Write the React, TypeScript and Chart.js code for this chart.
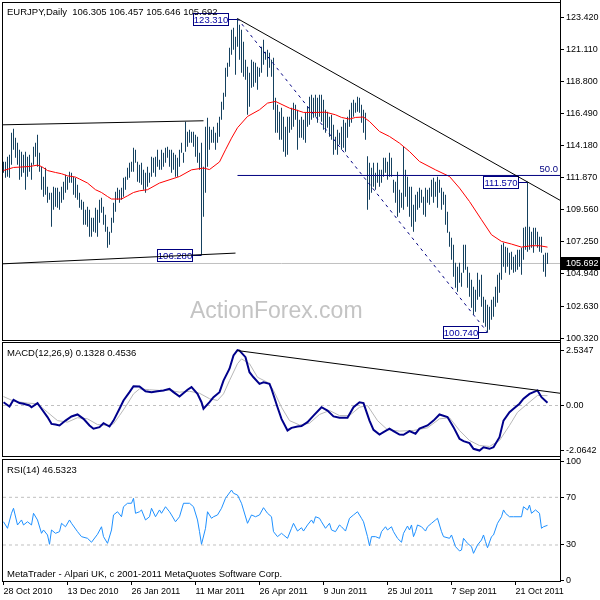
import React, { useEffect, useRef } from 'react';
import { Chart, registerables } from 'chart.js';

Chart.register(...registerables);

const FAMILY = '"Liberation Sans", Arial, sans-serif';

// ---------- header / text ----------
const symbolTitle = 'EURJPY,Daily';
const lastOHLC = ['106.305', '106.457', '105.646', '105.692'];
const macdTitle = 'MACD(12,26,9) 0.1328 0.4536';
const rsiTitle = 'RSI(14) 46.5323';
const footerText = 'MetaTrader - Alpari UK, c 2001-2011 MetaQuotes Software Corp.';
const watermark = 'ActionForex.com';

// ---------- x axis (bar index) ----------
const dateTickIdx = [0, 32, 64, 96, 128, 160, 192, 224, 256];
const dateLabels = ['28 Oct 2010', '13 Dec 2010', '26 Jan 2011', '11 Mar 2011', '26 Apr 2011', '9 Jun 2011', '25 Jul 2011', '7 Sep 2011', '21 Oct 2011'];
const X_MIN = -0.25;
const X_MAX = 278.25;

// ---------- daily bars ----------
const barHigh = [
  113.01, 113.01, 113.37, 113.51, 115.10, 115.38, 114.74, 114.38, 113.87, 113.73,
  113.51, 113.73, 113.37, 113.51, 112.94, 114.09, 114.38, 114.95, 113.66, 112.65,
  111.93, 112.58, 111.21, 110.78, 110.78, 111.21, 111.14, 111.14, 110.85, 111.21,
  111.57, 112.07, 111.93, 112.29, 112.22, 111.93, 111.86, 111.36, 110.78, 110.28,
  110.13, 109.56, 109.77, 109.56, 108.98, 108.98, 109.70, 109.56, 110.28, 110.42,
  109.77, 109.20, 108.33, 107.97, 108.98, 110.06, 110.85, 111.14, 111.00, 111.14,
  111.86, 111.93, 112.58, 112.94, 113.01, 114.02, 113.87, 113.01, 112.79, 112.94,
  112.43, 112.22, 112.65, 112.22, 113.37, 113.30, 113.37, 113.87, 113.15, 113.87,
  113.66, 114.02, 114.09, 113.87, 113.87, 113.66, 113.51, 113.30, 113.87, 114.38,
  113.66, 115.89, 115.17, 115.31, 115.17, 115.17, 114.95, 114.81, 113.66, 114.38,
  112.65, 115.53, 116.17, 115.53, 115.31, 115.53, 115.10, 115.82, 116.25, 117.33,
  117.97, 119.77, 120.13, 121.21, 122.51, 122.65, 122.00, 123.31, 122.87, 122.51,
  121.64, 120.35, 119.84, 119.41, 120.35, 120.20, 120.13, 119.84, 119.77, 121.28,
  121.79, 120.92, 121.07, 120.85, 120.35, 120.49, 117.62, 117.11, 116.61, 116.89,
  116.25, 115.53, 116.25, 116.25, 116.89, 117.25, 117.11, 116.75, 116.03, 116.25,
  116.03, 116.54, 116.97, 117.69, 117.83, 117.62, 117.83, 117.62, 117.83, 117.83,
  117.47, 116.75, 116.61, 116.25, 116.39, 115.67, 114.81, 115.31, 115.10, 115.53,
  116.03, 115.82, 116.25, 116.75, 117.25, 117.47, 117.25, 117.69, 117.62, 117.11,
  116.75, 116.54, 113.40, 112.94, 112.58, 112.94, 112.22, 112.94, 112.43, 112.43,
  113.30, 113.30, 113.01, 113.66, 113.30, 111.72, 111.57, 112.29, 111.00, 110.78,
  114.09, 112.43, 111.93, 111.21, 111.21, 109.92, 110.64, 110.85, 111.14, 111.00,
  110.49, 111.14, 111.00, 111.14, 111.72, 111.86, 111.57, 111.93, 111.72, 111.14,
  110.85, 110.64, 109.41, 107.97, 107.54, 107.04, 105.74, 105.46, 105.74, 105.02,
  107.04, 107.04, 105.46, 105.02, 104.52, 104.02, 103.80, 105.02, 104.52, 104.88,
  103.30, 103.08, 102.72, 102.58, 103.08, 103.30, 104.02, 104.88, 105.02, 107.04,
  107.18, 106.89, 106.82, 106.46, 106.54, 106.18, 106.32, 106.68, 106.68, 106.82,
  108.26, 108.33, 111.57, 108.33, 107.97, 108.26, 108.26, 107.97, 107.61, 107.61,
  106.32, 106.46, 106.46,
];
const barLow = [
  112.22, 111.86, 111.93, 111.86, 112.79, 113.87, 113.30, 112.79, 111.72, 111.93,
  112.22, 110.99, 111.93, 112.29, 111.72, 112.79, 113.37, 112.65, 112.29, 111.00,
  110.49, 110.64, 110.06, 110.28, 108.33, 109.56, 109.77, 109.70, 109.56, 110.06,
  110.28, 110.78, 111.00, 111.50, 111.50, 110.64, 110.42, 110.28, 109.70, 109.56,
  108.48, 108.48, 108.33, 107.61, 107.61, 107.97, 107.90, 107.61, 108.62, 109.34,
  108.48, 107.97, 106.82, 107.04, 107.90, 108.62, 109.41, 110.28, 110.06, 110.28,
  110.49, 111.00, 111.72, 111.86, 112.29, 112.29, 112.94, 111.57, 111.50, 111.36,
  111.00, 110.78, 111.21, 111.50, 111.93, 112.22, 111.93, 112.65, 112.43, 112.43,
  112.65, 112.94, 113.30, 112.65, 112.22, 112.43, 111.93, 111.93, 112.65, 113.66,
  112.94, 113.73, 114.09, 114.38, 114.38, 114.09, 113.37, 112.94, 112.43, 106.28,
  109.05, 110.78, 112.65, 113.87, 114.38, 114.38, 113.87, 114.38, 114.81, 116.03,
  116.75, 117.69, 119.12, 119.84, 120.71, 121.07, 119.27, 121.28, 120.35, 119.41,
  119.12, 118.91, 116.39, 116.97, 118.33, 118.41, 118.69, 118.19, 119.12, 119.41,
  119.99, 120.35, 119.12, 119.77, 119.12, 116.75, 115.10, 115.10, 114.59, 114.59,
  113.73, 113.37, 113.51, 115.10, 115.31, 115.53, 116.03, 113.87, 114.74, 114.74,
  114.59, 114.38, 115.53, 115.67, 116.03, 116.17, 116.25, 115.82, 116.25, 115.89,
  115.31, 115.10, 115.46, 114.81, 114.59, 113.51, 113.87, 113.51, 114.23, 113.87,
  114.02, 113.73, 114.74, 115.53, 115.82, 116.25, 116.54, 116.61, 116.54, 115.82,
  115.10, 114.59, 109.56, 110.28, 110.78, 111.21, 111.00, 111.50, 111.21, 111.50,
  111.93, 112.22, 111.72, 111.93, 111.93, 110.78, 110.06, 109.05, 109.34, 109.70,
  109.56, 110.49, 109.77, 109.05, 108.33, 107.97, 108.69, 109.56, 109.70, 110.06,
  109.20, 109.05, 110.06, 109.92, 110.49, 110.06, 110.49, 109.70, 110.78, 109.56,
  109.92, 108.48, 107.90, 106.89, 105.96, 104.74, 103.95, 103.66, 104.31, 104.02,
  105.02, 105.24, 103.95, 103.30, 102.51, 102.00, 102.22, 103.08, 103.30, 102.58,
  101.43, 101.14, 100.74, 100.92, 101.64, 101.86, 102.58, 102.87, 103.59, 104.52,
  105.46, 105.02, 105.46, 104.88, 105.24, 105.02, 105.10, 105.24, 105.46, 104.88,
  105.96, 106.68, 106.54, 106.68, 106.82, 106.46, 107.04, 106.82, 106.54, 106.46,
  105.10, 104.74, 105.65,
];
const lastClose = 105.692;

// ---------- moving average (red) ----------
const maIdx = [0, 5, 13, 17, 19, 22, 26, 29, 32, 36, 38, 42, 46, 49, 52, 54, 59, 62, 65, 68, 72, 78, 88, 94, 100, 103, 108, 111, 114, 117, 122, 128, 132, 136, 143, 146, 150, 157, 161, 166, 169, 173, 176, 180, 183, 188, 193, 198, 203, 208, 216, 223, 228, 233, 239, 244, 249, 254, 259, 264, 268, 272];
const maVal = [112.38, 112.60, 112.67, 112.77, 112.67, 112.38, 112.24, 112.15, 112.00, 111.91, 111.77, 111.48, 111.00, 110.80, 110.51, 110.33, 110.33, 110.56, 110.80, 110.92, 111.00, 111.48, 111.95, 112.43, 112.56, 112.45, 113.00, 113.87, 114.71, 115.46, 116.27, 116.75, 117.23, 117.35, 116.87, 116.75, 116.56, 116.56, 116.58, 116.39, 116.20, 116.08, 116.20, 116.23, 115.91, 115.19, 114.83, 114.35, 113.75, 113.03, 112.43, 111.95, 111.12, 110.15, 108.84, 107.76, 107.28, 107.09, 106.87, 106.97, 106.97, 106.87];

// ---------- main panel objects ----------
const pivotIdx = [117, 99, 262, 242];
const pivotVal = [123.31, 106.28, 111.57, 100.74];
const resistanceLine = [[117, 123.31], [278.25, 110.24]];
const fibBaseLine = [[117, 123.31], [242, 100.74]];
const fib50Level = 112.025;
const fib50Line = [[117, fib50Level], [278.25, fib50Level]];
const channelTop = [[-0.25, 115.67], [100, 115.96]];
const channelBottom = [[-0.25, 105.67], [116, 106.44]];

const priceTicks = [123.42, 121.11, 118.8, 116.49, 114.18, 111.87, 109.56, 107.25, 104.94, 102.63, 100.32];

// ---------- MACD ----------
const macdIdx = [0, 3, 5, 8, 10, 13, 14, 17, 19, 22, 24, 26, 28, 31, 34, 37, 40, 43, 45, 48, 50, 53, 55, 58, 60, 63, 65, 68, 71, 74, 77, 80, 83, 85, 88, 92, 94, 97, 99, 100, 103, 105, 108, 110, 113, 115, 117, 118, 121, 123, 125, 128, 130, 133, 134, 137, 139, 142, 144, 147, 149, 152, 155, 159, 162, 165, 168, 172, 175, 178, 180, 183, 185, 188, 190, 193, 195, 198, 200, 203, 206, 208, 212, 215, 218, 222, 225, 228, 230, 233, 235, 238, 240, 243, 245, 248, 250, 253, 255, 258, 260, 263, 267, 269, 272];
const macdVal = [0.15, -0.05, 0.26, 0.11, 0.08, 0.0, -0.08, 0.11, -0.15, -0.53, -0.84, -0.87, -0.91, -0.69, -0.50, -0.41, -0.61, -0.91, -1.06, -0.99, -0.81, -0.96, -0.69, -0.15, 0.23, 0.61, 0.88, 0.87, 0.65, 0.61, 0.65, 0.69, 0.76, 0.61, 0.41, 0.72, 0.84, 0.53, 0.15, -0.15, 0.15, 0.38, 0.61, 1.14, 1.68, 2.29, 2.53, 2.51, 2.21, 1.52, 1.29, 0.99, 1.06, 0.99, 0.76, -0.08, -0.61, -1.14, -1.02, -0.96, -0.94, -0.76, -0.46, -0.08, -0.23, -0.50, -0.56, -0.56, -0.08, 0.15, 0.11, -0.69, -1.11, -1.33, -1.22, -1.06, -1.17, -1.33, -1.34, -1.17, -1.29, -1.06, -0.91, -0.69, -0.41, -0.53, -0.99, -1.52, -1.63, -1.72, -1.98, -2.06, -1.91, -1.98, -1.91, -1.45, -0.69, -0.31, -0.15, 0.08, 0.31, 0.53, 0.69, 0.38, 0.13];
const signalIdx = [0, 5, 12, 17, 22, 27, 32, 37, 42, 47, 52, 55, 58, 62, 65, 68, 73, 78, 83, 88, 93, 98, 103, 107, 110, 113, 117, 119, 123, 127, 132, 135, 139, 143, 148, 153, 158, 163, 168, 173, 178, 182, 187, 192, 198, 205, 212, 218, 223, 228, 233, 238, 243, 248, 253, 257, 262, 267, 272];
const signalVal = [0.41, 0.20, 0.11, 0.08, -0.31, -0.69, -0.76, -0.56, -0.61, -0.87, -0.91, -0.84, -0.46, 0.08, 0.53, 0.76, 0.72, 0.69, 0.69, 0.61, 0.65, 0.56, 0.31, 0.23, 0.53, 1.14, 1.91, 2.13, 1.91, 1.29, 1.06, 0.69, -0.08, -0.69, -0.89, -0.81, -0.41, -0.23, -0.46, -0.46, -0.08, 0.0, -0.69, -1.11, -1.17, -1.14, -1.02, -0.61, -0.56, -1.14, -1.60, -1.83, -1.87, -1.60, -0.91, -0.31, 0.08, 0.46, 0.45];
const macdTrend = [[117, 2.51], [278.25, 0.56]];
const macdTickVals = [2.5347, 0, -2.0642];
const macdTickLabels = ['2.5347', '0.00', '-2.0642'];

// ---------- RSI ----------
const rsiIdx = [0, 2, 4, 5, 7, 9, 10, 12, 14, 15, 17, 19, 20, 22, 23, 24, 26, 28, 29, 31, 33, 34, 37, 39, 42, 44, 47, 49, 50, 52, 54, 55, 57, 59, 60, 62, 64, 65, 66, 68, 69, 71, 73, 74, 76, 78, 79, 81, 83, 84, 86, 88, 90, 93, 95, 97, 98, 99, 101, 102, 104, 105, 107, 109, 111, 114, 115, 117, 119, 120, 122, 124, 126, 128, 130, 132, 134, 135, 137, 139, 140, 142, 144, 145, 147, 149, 150, 152, 154, 155, 156, 158, 159, 161, 163, 164, 166, 168, 169, 171, 173, 175, 177, 179, 180, 182, 183, 184, 186, 188, 189, 191, 192, 194, 195, 197, 199, 200, 202, 203, 204, 205, 206, 207, 209, 211, 212, 214, 216, 217, 219, 220, 223, 224, 226, 228, 229, 230, 232, 234, 235, 237, 239, 240, 241, 242, 244, 245, 247, 249, 250, 251, 253, 255, 259, 260, 262, 263, 264, 266, 268, 269, 270, 272];
const rsiVal = [49.5, 44.0, 56.6, 60.8, 46.8, 51.0, 46.8, 49.5, 46.8, 56.6, 51.0, 39.8, 42.6, 38.4, 30.6, 42.6, 39.8, 41.2, 48.2, 45.3, 51.0, 48.2, 41.2, 37.0, 35.6, 32.3, 39.0, 45.3, 37.0, 31.4, 42.6, 55.2, 57.9, 53.7, 62.1, 65.0, 65.0, 69.2, 56.6, 57.9, 59.4, 51.0, 53.7, 60.8, 53.7, 59.4, 56.6, 62.1, 57.9, 55.2, 49.5, 53.7, 65.0, 65.0, 62.1, 51.0, 41.2, 30.6, 44.0, 57.9, 52.4, 53.7, 55.2, 60.8, 69.2, 76.1, 73.4, 71.9, 65.0, 59.4, 48.2, 55.2, 53.7, 55.2, 61.3, 56.6, 53.7, 41.2, 37.0, 39.8, 38.4, 35.6, 44.0, 48.2, 41.7, 44.5, 41.7, 46.8, 51.0, 48.2, 53.7, 52.4, 49.5, 44.0, 48.2, 42.6, 41.2, 46.8, 45.3, 41.7, 52.4, 55.2, 57.9, 52.4, 49.5, 37.0, 29.4, 37.0, 37.0, 35.6, 41.2, 45.3, 42.6, 45.3, 41.2, 35.6, 32.3, 39.8, 45.9, 42.6, 46.8, 37.0, 41.2, 46.8, 45.3, 41.7, 45.3, 48.2, 51.0, 52.4, 41.2, 37.0, 35.6, 38.4, 28.6, 25.0, 25.8, 35.6, 31.4, 28.6, 23.0, 30.0, 34.2, 38.4, 32.8, 27.7, 37.0, 38.4, 48.2, 53.7, 59.4, 56.6, 53.7, 53.7, 53.7, 62.1, 59.4, 63.5, 56.6, 59.4, 56.6, 44.0, 45.3, 46.5];
const rsiLevels = [70, 30];
const rsiTickVals = [100, 70, 30, 0];
const rsiTickLabels = ['100', '70', '30', '0'];

// ---------- colours ----------
const BAR_COLOR = '#15415f';
const NAVY = '#000080';
const GRID_GRAY = '#c0c0c0';

const pts = (idx: number[], val: number[]) => idx.map((x, k) => ({ x, y: val[k] }));
const seg = (p: number[][]) => p.map(([x, y]) => ({ x, y }));

function lineDs(data: any[], color: string, width = 1, dash: number[] = [], order = 1) {
  return { type: 'line', data, borderColor: color, borderWidth: width, borderDash: dash, pointRadius: 0, fill: false, tension: 0, order, spanGaps: true };
}

function yAxis(min: number, max: number, values: number[], labels: string[]) {
  return {
    type: 'linear',
    position: 'right',
    min,
    max,
    beginAtZero: false,
    afterBuildTicks: (s: any) => { s.ticks = values.map((v) => ({ value: v })); },
    afterFit: (s: any) => { s.width = 40; s.paddingTop = 0; s.paddingBottom = 0; },
    ticks: { autoSkip: false, color: '#000', padding: 2, crossAlign: 'near', font: { family: FAMILY, size: 9 }, callback: (_v: any, i: number) => labels[i] },
    grid: { drawOnChartArea: false, drawTicks: true, tickLength: 4, color: '#000', lineWidth: 1 },
    border: { display: true, color: '#000', width: 1 },
  };
}

function hiddenX() {
  return { type: 'linear', min: X_MIN, max: X_MAX, display: false, offset: false };
}

function framePlugin(extendRight: boolean) {
  return {
    id: 'frame',
    afterDraw(chart: any) {
      const { ctx, chartArea: a } = chart;
      ctx.save();
      ctx.strokeStyle = '#000';
      ctx.lineWidth = 1;
      ctx.strokeRect(a.left - 0.5, a.top - 0.5, a.right - a.left + 1, a.bottom - a.top + 1);
      ctx.beginPath();
      ctx.moveTo(a.right + 0.5, 0);
      ctx.lineTo(a.right + 0.5, extendRight ? chart.height : a.bottom + 1);
      ctx.stroke();
      ctx.restore();
    },
  };
}

function textPlugin(items: { t: string; x: number; y: number }[]) {
  return {
    id: 'texts',
    afterDraw(chart: any) {
      const { ctx } = chart;
      ctx.save();
      ctx.font = `9.5px ${FAMILY}`;
      ctx.fillStyle = '#000';
      ctx.textAlign = 'left';
      ctx.textBaseline = 'alphabetic';
      items.forEach((it) => ctx.fillText(it.t, it.x, it.y));
      ctx.restore();
    },
  };
}

const mainOverlay = {
  id: 'mainOverlay',
  beforeDatasetsDraw(chart: any) {
    const { ctx } = chart;
    const xs = chart.scales.x;
    const ys = chart.scales.y;
    ctx.save();
    ctx.font = `23px ${FAMILY}`;
    ctx.fillStyle = '#c4c4c4';
    ctx.textAlign = 'left';
    ctx.textBaseline = 'alphabetic';
    ctx.fillText(watermark, 190, 318);

    ctx.font = `9.5px ${FAMILY}`;
    ctx.lineWidth = 1;
    pivotIdx.forEach((idx, k) => {
      const px = xs.getPixelForValue(idx);
      const py = ys.getPixelForValue(pivotVal[k]);
      const right = Math.round(px - 10) + 0.5;
      const left = right - 35;
      const top = Math.round(py - 6) + 0.5;
      ctx.fillStyle = '#fff';
      ctx.fillRect(left, top, 35, 12);
      ctx.strokeStyle = NAVY;
      ctx.strokeRect(left, top, 35, 12);
      ctx.beginPath();
      const ly = Math.round(py) + 0.5;
      ctx.moveTo(right, ly);
      ctx.lineTo(px, ly);
      ctx.stroke();
      ctx.fillStyle = '#0000a0';
      ctx.textAlign = 'center';
      ctx.textBaseline = 'middle';
      ctx.fillText(pivotVal[k].toFixed(3), left + 17.5, top + 6.5);
    });

    const fy = ys.getPixelForValue(fib50Level);
    ctx.fillStyle = NAVY;
    ctx.textAlign = 'right';
    ctx.textBaseline = 'alphabetic';
    ctx.fillText('50.0', 558, fy - 3);
    ctx.restore();
  },
  afterDraw(chart: any) {
    const { ctx } = chart;
    const ys = chart.scales.y;
    const y = Math.round(ys.getPixelForValue(lastClose));
    ctx.save();
    ctx.fillStyle = '#000';
    ctx.fillRect(561, y - 6, 39, 13);
    ctx.fillStyle = '#fff';
    ctx.font = `9px ${FAMILY}`;
    ctx.textAlign = 'left';
    ctx.textBaseline = 'middle';
    ctx.fillText(lastClose.toFixed(3), 566, y + 0.5);
    ctx.restore();
  },
};

const baseOpts = (padding: any) => ({
  animation: false,
  responsive: false,
  maintainAspectRatio: false,
  devicePixelRatio: 1,
  events: [],
  layout: { padding },
  plugins: { legend: { display: false }, tooltip: { enabled: false }, title: { display: false } },
});

function mainConfig(): any {
  const bars = barHigh.map((h, i) => ({ x: i, y: [barLow[i], h] }));
  return {
    type: 'bar',
    data: {
      datasets: [
        lineDs(seg([[X_MIN, lastClose], [X_MAX, lastClose]]), GRID_GRAY, 1, [], 10),
        { type: 'bar', data: bars, backgroundColor: BAR_COLOR, borderWidth: 0, barThickness: 1, inflateAmount: 0, grouped: false, order: 5 },
        lineDs(pts(maIdx, maVal), '#ff0000', 1, [], 3),
        lineDs(seg(resistanceLine), '#000', 1, [], 1),
        lineDs(seg(fibBaseLine), NAVY, 1, [3, 4], 1),
        lineDs(seg(fib50Line), NAVY, 1, [], 1),
        lineDs(seg(channelTop), '#000', 1, [], 1),
        lineDs(seg(channelBottom), '#000', 1, [], 1),
      ],
    },
    options: {
      ...baseOpts({ left: 3, top: 3, bottom: 2, right: 0 }),
      scales: {
        x: hiddenX(),
        y: yAxis(100.188, 124.433, priceTicks, priceTicks.map((v) => v.toFixed(3))),
      },
    },
    plugins: [
      mainOverlay,
      framePlugin(true),
      textPlugin([{ t: `${symbolTitle}  ${lastOHLC.join(' ')}`, x: 7, y: 15 }]),
    ],
  };
}

function macdConfig(): any {
  return {
    type: 'line',
    data: {
      datasets: [
        lineDs(seg([[X_MIN, 0], [X_MAX, 0]]), GRID_GRAY, 1, [3, 3], 10),
        lineDs(pts(signalIdx, signalVal), '#b8b8b8', 1, [], 4),
        lineDs(pts(macdIdx, macdVal), '#00008b', 2, [], 2),
        lineDs(seg(macdTrend), '#000', 1, [], 1),
      ],
    },
    options: {
      ...baseOpts({ left: 3, top: 1, bottom: 2, right: 0 }),
      scales: {
        x: hiddenX(),
        y: yAxis(-2.308, 2.856, macdTickVals, macdTickLabels),
      },
    },
    plugins: [framePlugin(true), textPlugin([{ t: macdTitle, x: 7, y: 14 }])],
  };
}

function rsiConfig(): any {
  return {
    type: 'line',
    data: {
      datasets: [
        ...rsiLevels.map((lv) => lineDs(seg([[X_MIN, lv], [X_MAX, lv]]), GRID_GRAY, 1, [3, 3], 10)),
        lineDs(pts(rsiIdx, rsiVal), '#1e90ff', 1, [], 1),
      ],
    },
    options: {
      ...baseOpts({ left: 3, top: 2, bottom: 0, right: 0 }),
      scales: {
        x: {
          type: 'linear',
          position: 'bottom',
          min: X_MIN,
          max: X_MAX,
          offset: false,
          afterBuildTicks: (s: any) => { s.ticks = dateTickIdx.map((v) => ({ value: v })); },
          afterFit: (s: any) => { s.height = 19; s.paddingLeft = 0; s.paddingRight = 0; },
          ticks: {
            autoSkip: false, maxRotation: 0, minRotation: 0, align: 'start', padding: 1, color: '#000',
            font: { family: FAMILY, size: 9 },
            callback: (_v: any, i: number) => dateLabels[i],
          },
          grid: { drawOnChartArea: false, drawTicks: true, tickLength: 4, color: '#000', lineWidth: 1 },
          border: { display: true, color: '#000', width: 1 },
        },
        y: yAxis(-0.2, 101.3, rsiTickVals, rsiTickLabels),
      },
    },
    plugins: [
      framePlugin(false),
      textPlugin([
        { t: rsiTitle, x: 7, y: 15 },
        { t: footerText, x: 7, y: 119 },
      ]),
    ],
  };
}

export default function App() {
  const mainRef = useRef<HTMLCanvasElement>(null);
  const macdRef = useRef<HTMLCanvasElement>(null);
  const rsiRef = useRef<HTMLCanvasElement>(null);

  useEffect(() => {
    const charts = [
      new Chart(mainRef.current as HTMLCanvasElement, mainConfig()),
      new Chart(macdRef.current as HTMLCanvasElement, macdConfig()),
      new Chart(rsiRef.current as HTMLCanvasElement, rsiConfig()),
    ];
    return () => charts.forEach((c) => c.destroy());
  }, []);

  const cs = (top: number, h: number): React.CSSProperties => ({ position: 'absolute', left: 0, top, width: 600, height: h, display: 'block' });

  return (
    <div style={{ position: 'fixed', left: 0, top: 0, width: 600, height: 600, background: '#fff', overflow: 'hidden' }}>
      <canvas ref={mainRef} width={600} height={342} style={cs(0, 342)} />
      <canvas ref={macdRef} width={600} height={116} style={cs(342, 116)} />
      <canvas ref={rsiRef} width={600} height={142} style={cs(458, 142)} />
    </div>
  );
}
